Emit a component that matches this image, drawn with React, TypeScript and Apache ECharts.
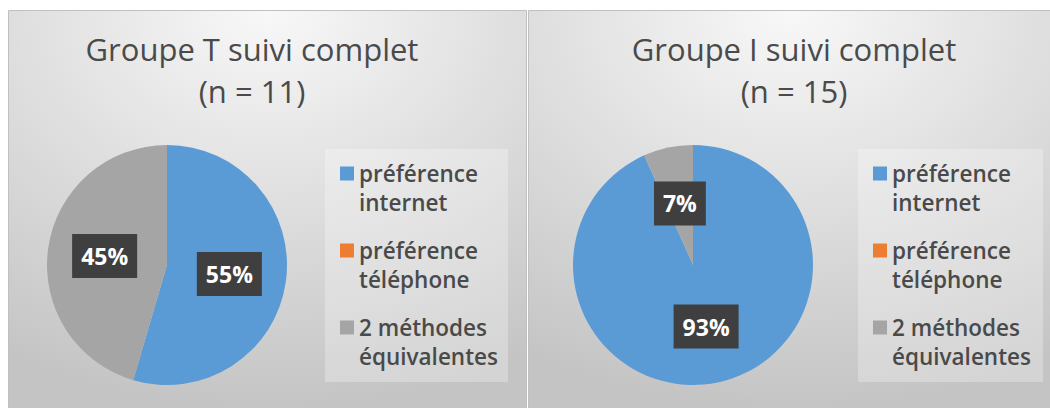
import React, { useEffect, useRef } from "react";
import * as echarts from "echarts";

const categories = ["préférence internet", "préférence téléphone", "2 méthodes équivalentes"];
const colors = ["#5B9BD5", "#ED7D31", "#A5A5A5"];
const groupTValues = [6, 0, 5];
const groupIValues = [14, 0, 1];
const titles = ["Groupe T suivi complet\n(n = 11)", "Groupe I suivi complet\n(n = 15)"];

const FONT = "'Open Sans', Lato, sans-serif";

function pieData(values: number[]) {
  return categories.map((name, i) => ({
    name,
    value: values[i],
    itemStyle: { color: colors[i] },
    label: values[i] === 0 ? { show: false } : undefined,
  }));
}

function panelRect(x: number, y: number, w: number, h: number) {
  return {
    type: "rect",
    shape: { x, y, width: w, height: h },
    style: {
      fill: new echarts.graphic.RadialGradient(0.5, 0.0, 1.0, [
        { offset: 0, color: "#f8f8f8" },
        { offset: 1, color: "#c4c4c4" },
      ]),
      stroke: "#c0c0c0",
      lineWidth: 1,
    },
    z: -10,
    silent: true,
  };
}

function legendBg(x: number, y: number, w: number, h: number) {
  return {
    type: "rect",
    shape: { x, y, width: w, height: h },
    style: { fill: "rgba(255,255,255,0.28)" },
    z: -5,
    silent: true,
  };
}

function makeLegend(left: number) {
  return {
    orient: "vertical",
    left,
    top: 130,
    padding: 0,
    itemGap: -10,
    itemWidth: 14,
    itemHeight: 14,
    icon: "rect",
    data: categories,
    selectedMode: false,
    formatter: (name: string) => {
      const i = name.lastIndexOf(" ");
      return "\u00a0\n" + name.slice(0, i) + "\n" + name.slice(i + 1);
    },
    textStyle: {
      fontFamily: FONT,
      fontSize: 22.5,
      fontWeight: 600,
      lineHeight: 29,
      color: "#4a4a4a",
    },
  };
}

function makePie(center: [number, number], values: number[]) {
  return {
    type: "pie",
    center,
    radius: 120,
    startAngle: 90,
    clockwise: true,
    percentPrecision: 0,
    avoidLabelOverlap: false,
    data: pieData(values),
    itemStyle: { borderWidth: 0 },
    label: {
      show: true,
      position: "inside",
      formatter: "{d}%",
      color: "#ffffff",
      fontFamily: FONT,
      fontWeight: "bold",
      fontSize: 23,
      lineHeight: 24,
      backgroundColor: "#3f3f3f",
      padding: [10, 9],
    },
    labelLine: { show: false },
    emphasis: { disabled: true },
  };
}

export default function App() {
  const ref = useRef<HTMLDivElement>(null);
  useEffect(() => {
    if (!ref.current) return;
    const chart = echarts.init(ref.current, undefined, { renderer: "svg" });
    const titleStyle = { fontFamily: FONT, fontSize: 31, fontWeight: "normal", lineHeight: 42, color: "#4a4a4a" };
    chart.setOption({
      animation: false,
      backgroundColor: "#ffffff",
      title: [
        { text: titles[0], left: 252, top: 28, textAlign: "center", padding: 0, textStyle: titleStyle },
        { text: titles[1], left: 794, top: 28, textAlign: "center", padding: 0, textStyle: titleStyle },
      ],
      legend: [makeLegend(340), makeLegend(873)],
      graphic: [
        panelRect(8.5, 10.5, 518, 400),
        panelRect(528.5, 10.5, 525, 400),
        legendBg(325, 149, 183, 233),
        legendBg(858, 149, 185, 233),
      ],
      series: [makePie([167, 265], groupTValues), makePie([693, 265], groupIValues)],
    });
    return () => chart.dispose();
  }, []);
  return <div ref={ref} style={{ position: "absolute", left: 0, top: 0, width: 1050, height: 408 }} />;
}
